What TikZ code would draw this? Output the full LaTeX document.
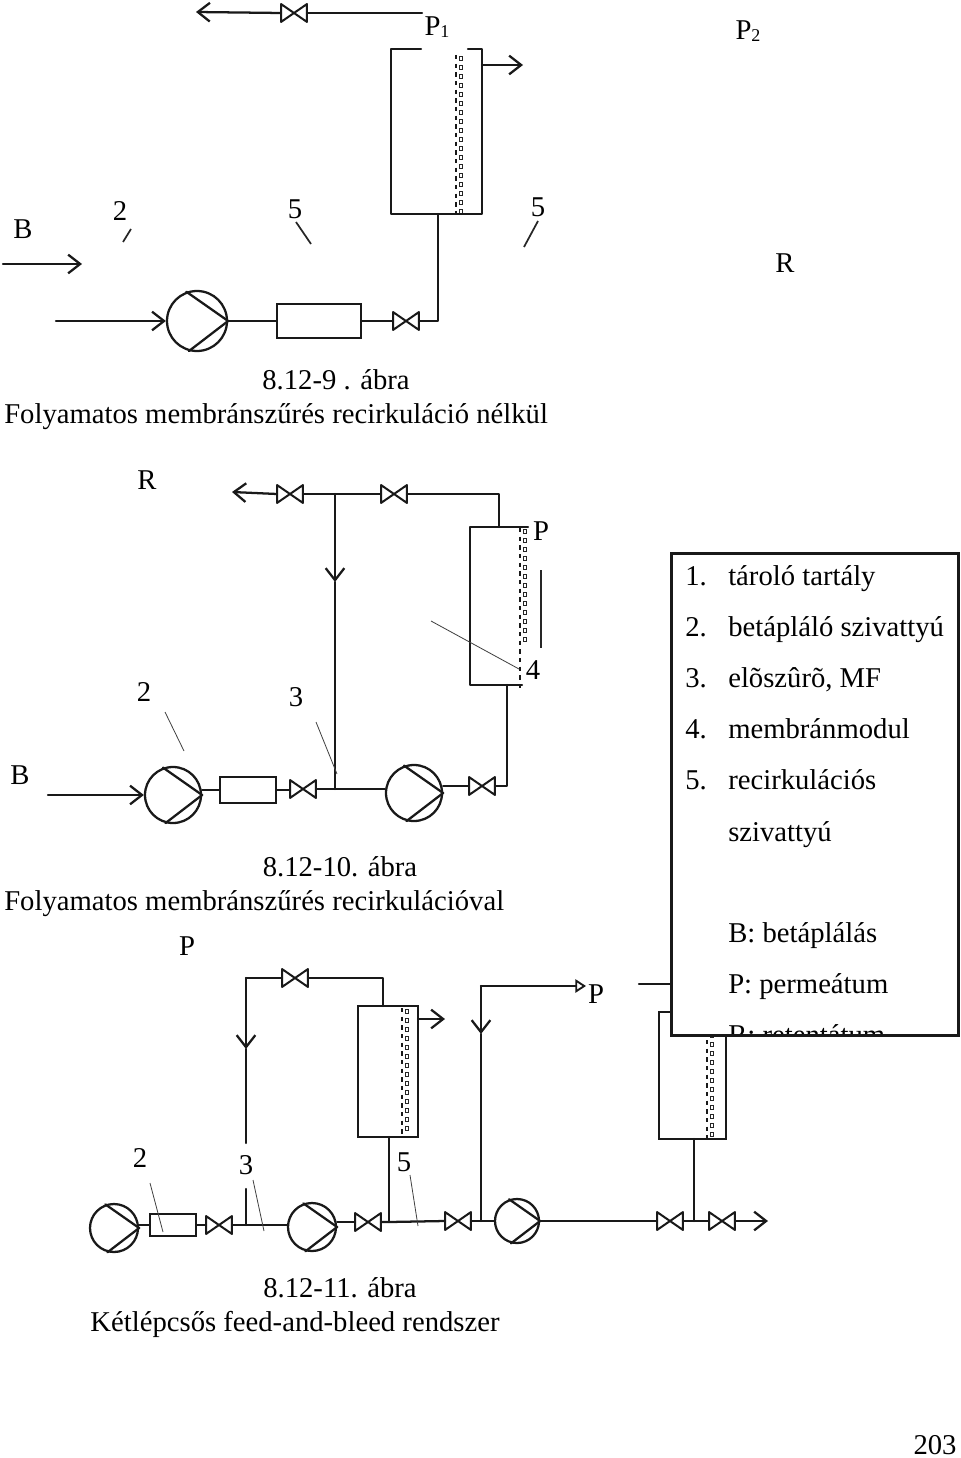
\documentclass[tikz,border=0pt]{standalone}
\usepackage{fontspec}
\setmainfont{Liberation Serif}
\usetikzlibrary{arrows.meta}
\tikzset{
  pipe/.style={line width=1.7pt,line cap=round,line join=round,draw=black!90},
  flow/.style={pipe,-{Straight Barb[length=9pt,width=14pt,line width=1.7pt]}},
  thinline/.style={line width=0.6pt,draw=black!75},
  tick/.style={line width=1.3pt,draw=black!85},
  valvebox/.style={inner sep=0pt,minimum width=19pt,minimum height=13pt},
  pumpc/.style={circle,draw=black!90,line width=1.7pt,inner sep=0pt},
  filterbox/.style={draw=black!90,line width=1.7pt,inner sep=0pt},
  lbl/.style={inner sep=0pt,font=\fontsize{21.5}{25}\selectfont},
  leg/.style={lbl,anchor=base west},
}
\newcommand{\valveat}[3]{%
  \node[valvebox] (#1) at (#2,#3) {};
  \draw[pipe,line width=1.5pt] (#1.south west) -- (#1.north east) -- (#1.south east) -- (#1.north west) -- cycle;}
\newcommand{\pumpat}[4]{%
  \node[pumpc,minimum size=#4*0.75pt] (#1) at (#2,#3) {};
  \draw[pipe] (#1.110) -- (#1.east) -- (#1.-105);}
\newcommand{\membrane}[4]{% x, top, bottom of dashes, bottom of squares
  \draw[line width=2pt,draw=black!90,dash pattern=on 3.2pt off 3.3pt] (#1,#2) -- (#1,#3);
  \foreach \yy in {#2,\the\numexpr#2+9\relax,...,#4}
    \draw[line width=1pt,draw=black!85] (#1+3.5,\yy+1.5) rectangle (#1+6.5,\yy+5.5);}
\begin{document}
\begin{tikzpicture}[x=0.75pt,y=-0.75pt]
\useasboundingbox (0,0) rectangle (960,1458);
% ---------- 8.12-9
\coordinate (a1) at (196,12);
\coordinate (a2) at (422,13);
\valveat{av}{294}{13}
\draw[flow] (av.west) -- (a1);
\draw[pipe] (av.east) -- (a2);
\node[lbl] (p1) at (437,27) {P{\fontsize{13.5}{14}\selectfont\raisebox{-2pt}{1}}};
\node[lbl] (p2) at (748,31) {P{\fontsize{13.5}{14}\selectfont\raisebox{-2pt}{2}}};
\membrane{456}{55}{218}{211}
\coordinate (m1a) at (421,49); \coordinate (m1b) at (391,49); \coordinate (m1c) at (391,214);
\coordinate (m1d) at (482,214); \coordinate (m1e) at (482,49); \coordinate (m1f) at (468,49);
\draw[pipe] (m1a) -- (m1b) -- (m1c) -- (m1d) -- (m1e) -- (m1f);
\coordinate (m1o) at (482,65); \coordinate (m1t) at (523,65);
\draw[flow] (m1o) -- (m1t);
\pumpat{ap}{197}{321}{60}
\node[filterbox,minimum width=63pt,minimum height=25pt] (af) at (319,321) {};
\valveat{bv}{406}{321}
\coordinate (c1) at (438,321); \coordinate (c2) at (438,214);
\coordinate (i1) at (56,321);
\draw[pipe] (bv.east) -- (c1) -- (c2);
\draw[pipe] (af.east) -- (bv.west);
\draw[pipe] (ap.east) -- (af.west);
\draw[flow] (i1) -- (ap.west);
\coordinate (b1) at (3,264); \coordinate (b2) at (82,264);
\draw[flow] (b1) -- (b2);
\node[lbl] (tb1) at (23,229) {B};
\node[lbl] (t21) at (120,211) {2};
\node[lbl] (t51) at (295,209) {5};
\node[lbl] (t52) at (538,207) {5};
\node[lbl] (tr1) at (785,263) {R};
\coordinate (k1) at (123,242); \coordinate (k2) at (131,229);
\coordinate (k3) at (296,222); \coordinate (k4) at (311,244);
\coordinate (k5) at (538,221); \coordinate (k6) at (524,247);
\draw[tick] (k1) -- (k2); \draw[tick] (k3) -- (k4); \draw[tick] (k5) -- (k6);
\node[lbl] (cap1) at (336,380) {8.12-9 . ábra};
\node[lbl,anchor=west] (cap2) at (4,416.5) {Folyamatos membránszűrés recirkuláció nélkül};
% ---------- 8.12-10
\node[lbl] (tr2) at (147,480) {R};
\coordinate (d1) at (232,492);
\valveat{dv1}{290}{494}
\coordinate (dj) at (335,494);
\valveat{dv2}{394}{494}
\coordinate (dc) at (499,494); \coordinate (dt) at (499,527);
\draw[flow] (dv1.west) -- (d1);
\draw[pipe] (dv1.east) -- (dj) -- (dv2.west);
\draw[pipe] (dv2.east) -- (dc) -- (dt);
\membrane{520}{528}{690}{640}
\coordinate (m2a) at (528,527); \coordinate (m2b) at (470,527); \coordinate (m2c) at (470,685); \coordinate (m2d) at (522,685);
\draw[pipe] (m2a) -- (m2b) -- (m2c) -- (m2d);
\node[lbl] (tp2) at (541,531) {P};
\coordinate (s1) at (541,570); \coordinate (s2) at (541,648);
\draw[tick,line width=1.7pt] (s1) -- (s2);
\node[lbl] (t4) at (533,670) {4};
\coordinate (t1) at (431,621); \coordinate (t2) at (519,669);
\draw[thinline] (t1) -- (t2);
\pumpat{ep1}{173}{795}{56}
\node[filterbox,minimum width=42pt,minimum height=19pt] (ef) at (248,790) {};
\valveat{ev1}{303}{789}
\coordinate (ej) at (335,789);
\pumpat{ep2}{414}{793}{56}
\valveat{ev2}{482}{786}
\coordinate (ec) at (507,786); \coordinate (ed) at (507,685);
\draw[pipe] (ef.west) -- (ef.west -| ep1.east);
\draw[pipe] (ef.east) -- (ef.east -| ev1.west);
\draw[pipe] (ev1.east) -- (ej) -- (ej -| ep2.west);
\draw[pipe] (ev2.west) -- (ev2.west -| ep2.east);
\draw[pipe] (ev2.east) -- (ec) -- (ed);
\coordinate (ja) at (335,582);
\draw[flow] (dj) -- (ja);
\draw[pipe] (ja) -- (ej);
\coordinate (ei) at (48,795);
\draw[flow] (ei) -- (ep1.west);
\node[lbl] (tb2) at (20,775) {B};
\node[lbl] (t22) at (144,692) {2};
\node[lbl] (t32) at (296,697) {3};
\coordinate (q1) at (165,712); \coordinate (q2) at (184,751);
\coordinate (q3) at (316,722); \coordinate (q4) at (337,774);
\draw[thinline] (q1) -- (q2); \draw[thinline] (q3) -- (q4);
\node[lbl] (cap3) at (340,867) {8.12-10. ábra};
\node[lbl,anchor=west] (cap4) at (4,903.5) {Folyamatos membránszűrés recirkulációval};
% ---------- 8.12-11
\node[lbl] (tp3) at (187,946) {P};
\pumpat{fp1}{114}{1228}{48}
\node[filterbox,minimum width=35pt,minimum height=16pt] (ff) at (173,1225) {};
\valveat{fv1}{219}{1225}
\coordinate (fj) at (246,1225);
\pumpat{fp2}{312}{1227}{48}
\valveat{fv2}{368}{1222}
\coordinate (fj2) at (389,1222);
\valveat{fv3}{458}{1221}
\coordinate (fj3) at (481,1221);
\pumpat{fp3}{517}{1221}{44}
\valveat{fv4}{670}{1221}
\coordinate (fj4) at (694,1221);
\valveat{fv5}{722}{1221}
\coordinate (fe) at (768,1221);
\draw[pipe] (ff.west) -- (ff.west -| fp1.east);
\draw[pipe] (ff.east) -- (fv1.west);
\draw[pipe] (fv1.east) -- (fj) -- (fj -| fp2.west);
\draw[pipe] (fv2.west) -- (fv2.west -| fp2.east);
\draw[pipe] (fv2.east) -- (fj2) -- (fv3.west);
\draw[pipe] (fv3.east) -- (fj3) -- (fp3.west);
\draw[pipe] (fp3.east) -- (fv4.west);
\draw[pipe] (fv4.east) -- (fj4) -- (fv5.west);
\draw[flow] (fv5.east) -- (fe);
% second stage module
\coordinate (gl) at (246,978); \coordinate (gla) at (246,1049); \coordinate (glb) at (246,1143); \coordinate (glc) at (246,1189);
\valveat{gv}{295}{978}
\coordinate (gc) at (383,978); \coordinate (gt) at (383,1006);
\draw[pipe] (gv.east) -- (gc) -- (gt);
\draw[pipe] (gv.west) -- (gl);
\draw[flow] (gl) -- (gla);
\draw[pipe] (gla) -- (glb);
\draw[pipe] (glc) -- (fj);
\node[draw=black!90,line width=1.7pt,inner sep=0pt,minimum width=45pt,minimum height=98.25pt] (gm) at (388,1071.5) {};
\membrane{402}{1008}{1137}{1130}
\coordinate (go) at (418,1019); \coordinate (gt2) at (445,1019);
\draw[flow] (go) -- (gt2);
\coordinate (gb) at (389,1137);
\draw[pipe] (gb) -- (fj2);
\node[lbl] (t23) at (140,1158) {2};
\node[lbl] (t33) at (246,1165) {3};
\node[lbl] (t53) at (404,1162) {5};
\coordinate (r1) at (150,1183); \coordinate (r2) at (163,1232);
\coordinate (r3) at (253,1180); \coordinate (r4) at (264,1231);
\coordinate (r5) at (410,1175); \coordinate (r6) at (418,1226);
\draw[thinline] (r1) -- (r2); \draw[thinline] (r3) -- (r4); \draw[thinline] (r5) -- (r6);
% third stage
\coordinate (hl) at (481,986); \coordinate (hla) at (481,1034); \coordinate (hr) at (586,986);
\draw[flow] (hl) -- (hla);
\draw[pipe] (hla) -- (fj3);
\draw[pipe,-{Triangle[open,length=8pt,width=10pt,line width=1.4pt]}] (hl) -- (hr);
\node[lbl] (tp4) at (596,994) {P};
\coordinate (h1) at (639,984); \coordinate (h2) at (672,984);
\draw[pipe] (h1) -- (h2);
\node[draw=black!90,line width=1.7pt,inner sep=0pt,minimum width=50.25pt,minimum height=95.25pt] (hm) at (692.5,1075.5) {};
\membrane{707}{1014}{1139}{1132}
\coordinate (hb) at (694,1139);
\draw[pipe] (hb) -- (fj4);
\node[lbl] (cap5) at (340,1288) {8.12-11. ábra};
\node[lbl] (cap6) at (295,1324) {Kétlépcsős feed-and-bleed rendszer};
\node[lbl] (pg) at (935,1445) {203};
% ---------- legend
\node[fill=white,inner sep=0pt,minimum width=214.5pt,minimum height=360.75pt] (lg) at (815,794.5) {};
\begin{scope}
\clip (lg.south west) rectangle (lg.north east);
\node[leg] (l1) at (685,585) {1.};  \node[leg] (l1t) at (728,585) {tároló tartály};
\node[leg] (l2) at (685,636) {2.};  \node[leg] (l2t) at (728,636) {betápláló szivattyú};
\node[leg] (l3) at (685,687) {3.};  \node[leg] (l3t) at (728,687) {elõszûrõ, MF};
\node[leg] (l4) at (685,738) {4.};  \node[leg] (l4t) at (728,738) {membránmodul};
\node[leg] (l5) at (685,789) {5.};  \node[leg] (l5t) at (728,789) {recirkulációs};
\node[leg] (l6t) at (728,841) {szivattyú};
\node[leg] (l7t) at (728,942) {B: betáplálás};
\node[leg] (l8t) at (728,993) {P: permeátum};
\node[leg] (l9t) at (728,1044) {R: retentátum};
\end{scope}
\draw[line width=1.9pt,draw=black!90] (lg.north west) rectangle (lg.south east);
\end{tikzpicture}
\end{document}
